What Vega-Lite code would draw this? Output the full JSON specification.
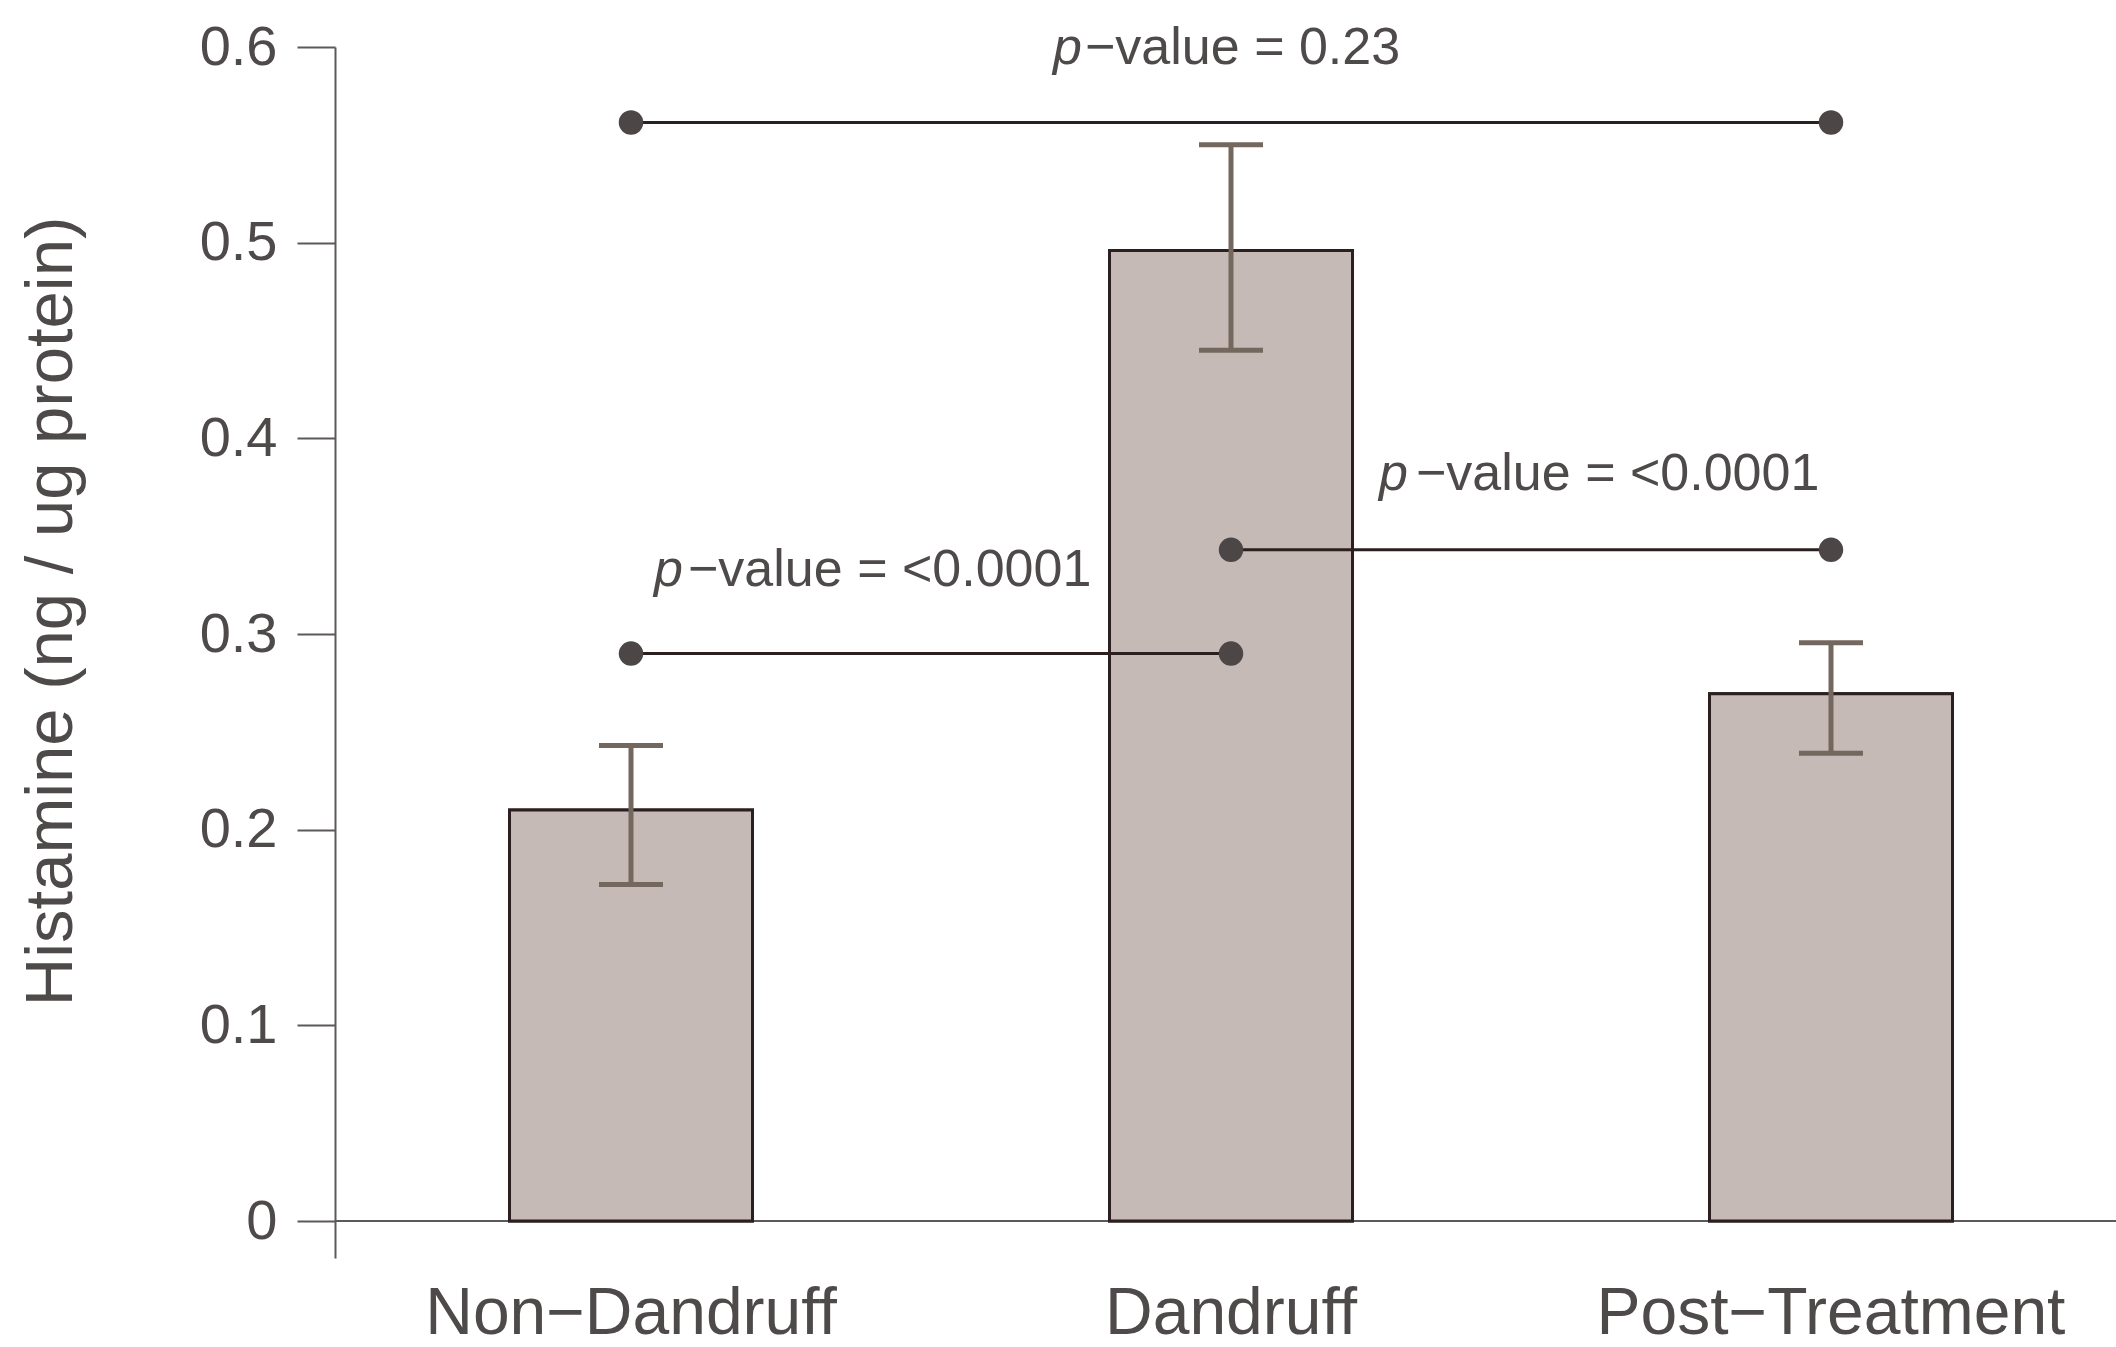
{
  "$schema": "https://vega.github.io/schema/vega-lite/v6.json",
  "width": 1781,
  "height": 1211,
  "autosize": {"type": "none"},
  "padding": {"left": 335, "top": 47, "right": 0, "bottom": 89},
  "background": "white",
  "config": {"view": {"stroke": null}, "font": "Liberation Sans"},
  "datasets": {
    "bars": [
      {"group": "Non−Dandruff", "mean": 0.21, "lo": 0.172, "hi": 0.243},
      {"group": "Dandruff", "mean": 0.496, "lo": 0.445, "hi": 0.55},
      {"group": "Post−Treatment", "mean": 0.2695, "lo": 0.239, "hi": 0.2955}
    ],
    "brackets": [
      {"from": "Non−Dandruff", "to": "Post−Treatment", "y": 0.5614},
      {"from": "Dandruff", "to": "Post−Treatment", "y": 0.343},
      {"from": "Non−Dandruff", "to": "Dandruff", "y": 0.29}
    ],
    "pvals": [
      {"id": 1, "group": "Dandruff", "y": 0.5914, "p": "p", "rest": "−value = 0.23"},
      {"id": 2, "group": "Dandruff", "y": 0.3738, "p": "p", "rest": "−value = <0.0001"},
      {"id": 3, "group": "Non−Dandruff", "y": 0.3243, "p": "p", "rest": "−value = <0.0001"}
    ],
    "zero": [{"v": 0}]
  },
  "layer": [
    {
      "data": {"name": "bars"},
      "mark": {"type": "bar", "width": {"band": 0.405}, "fill": "#c5bab5", "stroke": "#2b1f1f", "strokeWidth": 3},
      "encoding": {
        "x": {
          "field": "group", "type": "nominal", "sort": null,
          "scale": {"type": "band", "domain": ["Non−Dandruff", "Dandruff", "Post−Treatment"], "paddingInner": 0, "paddingOuter": 0, "range": [-4, 1796]},
          "axis": {"title": null, "domain": false, "ticks": false, "labelAngle": 0, "labelFontSize": 66, "labelColor": "#4f4a4a", "labelPadding": 23, "labelLimit": 0},
          "title": null
        },
        "y": {
          "field": "mean", "type": "quantitative",
          "scale": {"domain": [-0.0189, 0.6], "nice": false, "zero": false},
          "axis": {
            "title": "Histamine (ng / ug protein)",
            "values": [0, 0.1, 0.2, 0.3, 0.4, 0.5, 0.6],
            "format": ".1~f",
            "grid": false,
            "domainColor": "#5e5959", "domainWidth": 2,
            "tickColor": "#5e5959", "tickWidth": 2, "tickSize": 38,
            "labelFontSize": 56, "labelColor": "#4f4a4a", "labelPadding": 20,
            "titleFontSize": 67, "titleFontWeight": "normal", "titleColor": "#4f4a4a",
            "titleAngle": 270, "titleX": -284, "titleY": 564, "titleAlign": "center", "titleBaseline": "middle", "titleLimit": 0
          }
        }
      }
    },
    {
      "data": {"name": "zero"},
      "mark": {"type": "rule", "color": "#5e5959", "strokeWidth": 2},
      "encoding": {"y": {"field": "v", "type": "quantitative"}}
    },
    {
      "data": {"name": "bars"},
      "mark": {"type": "bar", "width": {"band": 0.405}, "fill": "#c5bab5", "stroke": "#2b1f1f", "strokeWidth": 3},
      "encoding": {
        "x": {"field": "group", "type": "nominal", "title": null},
        "y": {"field": "mean", "type": "quantitative"}
      }
    },
    {
      "data": {"name": "bars"},
      "mark": {"type": "rule", "color": "#74675e", "strokeWidth": 5},
      "encoding": {
        "x": {"field": "group", "type": "nominal", "title": null},
        "y": {"field": "lo", "type": "quantitative"},
        "y2": {"field": "hi"}
      }
    },
    {
      "data": {"name": "bars"},
      "mark": {"type": "tick", "color": "#74675e", "size": 64, "thickness": 5, "opacity": 1},
      "encoding": {
        "x": {"field": "group", "type": "nominal", "title": null},
        "y": {"field": "lo", "type": "quantitative"}
      }
    },
    {
      "data": {"name": "bars"},
      "mark": {"type": "tick", "color": "#74675e", "size": 64, "thickness": 5, "opacity": 1},
      "encoding": {
        "x": {"field": "group", "type": "nominal", "title": null},
        "y": {"field": "hi", "type": "quantitative"}
      }
    },
    {
      "data": {"name": "brackets"},
      "mark": {"type": "rule", "color": "#2b1f1f", "strokeWidth": 3},
      "encoding": {
        "x": {"field": "from", "type": "nominal", "title": null},
        "x2": {"field": "to"},
        "y": {"field": "y", "type": "quantitative"}
      }
    },
    {
      "data": {"name": "brackets"},
      "transform": [{"fold": ["from", "to"], "as": ["end", "grp"]}],
      "mark": {"type": "circle", "color": "#4c4647", "size": 600, "opacity": 1},
      "encoding": {
        "x": {"field": "grp", "type": "nominal", "title": null},
        "y": {"field": "y", "type": "quantitative"}
      }
    },
    {
      "data": {"name": "pvals"},
      "transform": [{"filter": "datum.id == 1"}],
      "mark": {"type": "text", "align": "left", "baseline": "alphabetic", "fontSize": 52, "fontStyle": "italic", "color": "#4f4a4a", "dx": -178},
      "encoding": {"x": {"field": "group", "type": "nominal", "title": null}, "y": {"field": "y", "type": "quantitative"}, "text": {"field": "p"}}
    },
    {
      "data": {"name": "pvals"},
      "transform": [{"filter": "datum.id == 1"}],
      "mark": {"type": "text", "align": "left", "baseline": "alphabetic", "fontSize": 52, "color": "#4f4a4a", "dx": -146},
      "encoding": {"x": {"field": "group", "type": "nominal", "title": null}, "y": {"field": "y", "type": "quantitative"}, "text": {"field": "rest"}}
    },
    {
      "data": {"name": "pvals"},
      "transform": [{"filter": "datum.id == 2"}],
      "mark": {"type": "text", "align": "left", "baseline": "alphabetic", "fontSize": 52, "fontStyle": "italic", "color": "#4f4a4a", "dx": 148},
      "encoding": {"x": {"field": "group", "type": "nominal", "title": null}, "y": {"field": "y", "type": "quantitative"}, "text": {"field": "p"}}
    },
    {
      "data": {"name": "pvals"},
      "transform": [{"filter": "datum.id == 2"}],
      "mark": {"type": "text", "align": "left", "baseline": "alphabetic", "fontSize": 52, "color": "#4f4a4a", "dx": 185},
      "encoding": {"x": {"field": "group", "type": "nominal", "title": null}, "y": {"field": "y", "type": "quantitative"}, "text": {"field": "rest"}}
    },
    {
      "data": {"name": "pvals"},
      "transform": [{"filter": "datum.id == 3"}],
      "mark": {"type": "text", "align": "left", "baseline": "alphabetic", "fontSize": 52, "fontStyle": "italic", "color": "#4f4a4a", "dx": 23},
      "encoding": {"x": {"field": "group", "type": "nominal", "title": null}, "y": {"field": "y", "type": "quantitative"}, "text": {"field": "p"}}
    },
    {
      "data": {"name": "pvals"},
      "transform": [{"filter": "datum.id == 3"}],
      "mark": {"type": "text", "align": "left", "baseline": "alphabetic", "fontSize": 52, "color": "#4f4a4a", "dx": 57},
      "encoding": {"x": {"field": "group", "type": "nominal", "title": null}, "y": {"field": "y", "type": "quantitative"}, "text": {"field": "rest"}}
    }
  ]
}
